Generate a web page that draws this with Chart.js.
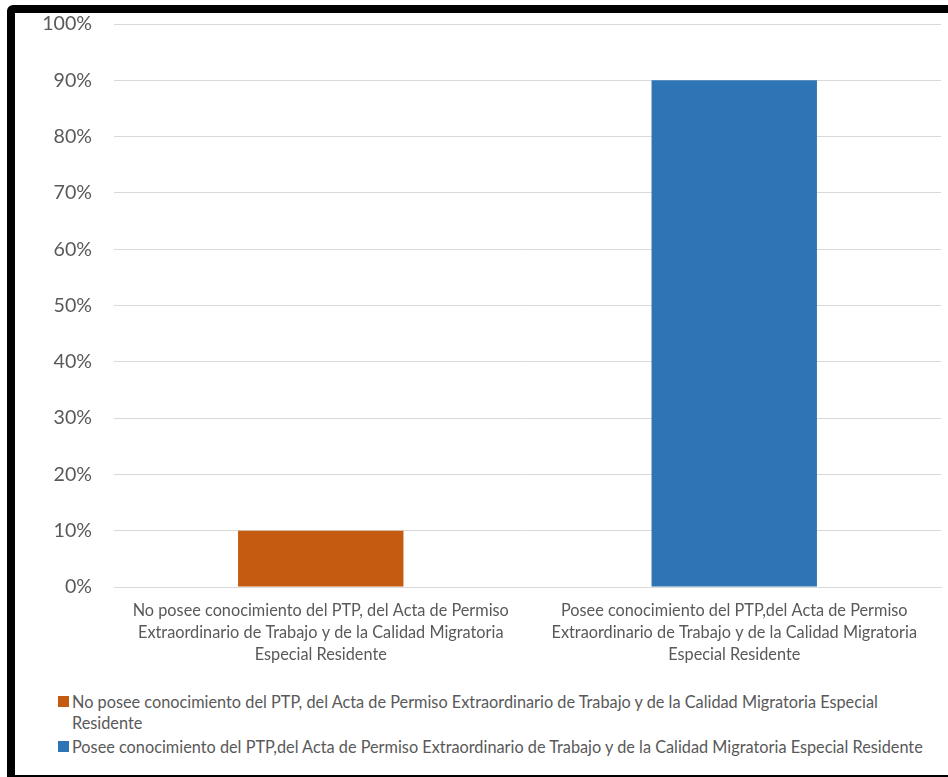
<!DOCTYPE html>
<html>
<head>
<meta charset="utf-8">
<script src="https://cdn.jsdelivr.net/npm/chart.js@4/dist/chart.umd.min.js"></script>
<style>
    html, body { margin: 0; padding: 0; background: #fff; overflow: hidden; }
    #frame {
        position: absolute; left: 7px; top: 5px;
        width: 960px; height: 778px;
        border: 8px solid #000; border-radius: 6px;
        box-sizing: border-box; background: #fff;
    }
    #chartBox { position: absolute; left: 0; top: 0; width: 933px; height: 667px; }
    #legend {
        position: absolute; left: 43px; top: 678px; margin: 0; padding: 0; list-style: none;
        font-family: Lato, 'Open Sans', sans-serif; font-size: 16.3px; color: #595959;
    }
    #legend li { position: relative; padding-left: 14px; line-height: 21px; margin-bottom: 3px; width: 860px; }
    #legend li span.box { position: absolute; left: 0; top: 5px; width: 11px; height: 11px; }
</style>
</head>
<body>
<div id="frame">
    <div id="chartBox"><canvas id="chart"></canvas></div>
    <ul id="legend"></ul>
</div>
<script>
const categories = [
    'No posee conocimiento del PTP, del Acta de Permiso Extraordinario de Trabajo y de la Calidad Migratoria Especial Residente',
    'Posee conocimiento del PTP,del Acta de Permiso Extraordinario de Trabajo y de la Calidad Migratoria Especial Residente'
];
const axisLabels = [
    ['No posee conocimiento del PTP, del Acta de Permiso', 'Extraordinario de Trabajo y de la Calidad Migratoria', 'Especial Residente'],
    ['Posee conocimiento del PTP,del Acta de Permiso', 'Extraordinario de Trabajo y de la Calidad Migratoria', 'Especial Residente']
];
const values = [0.10, 0.90];
const barColors = ['#C55A11', '#2E75B6'];

const textColor = '#595959';
const gridColor = '#d9d9d9';
const fontFamily = "Lato, 'Open Sans', sans-serif";

// legend built in html so the long first label can wrap like in the original
const htmlLegend = {
    id: 'htmlLegend',
    afterUpdate(chart) {
        const ul = document.getElementById('legend');
        ul.innerHTML = '';
        const items = chart.options.plugins.legend.labels.generateLabels(chart);
        items.forEach(item => {
            const li = document.createElement('li');
            const box = document.createElement('span');
            box.className = 'box';
            box.style.background = item.fillStyle;
            li.appendChild(box);
            li.appendChild(document.createTextNode(item.text));
            ul.appendChild(li);
        });
    }
};

new Chart(document.getElementById('chart'), {
    type: 'bar',
    data: {
        labels: axisLabels,
        datasets: [{
            data: values,
            backgroundColor: barColors,
            categoryPercentage: 1,
            barPercentage: 0.4
        }]
    },
    options: {
        responsive: true,
        maintainAspectRatio: false,
        animation: false,
        layout: { padding: { top: 11, right: 7, left: 0, bottom: 0 } },
        plugins: {
            legend: {
                display: false,
                labels: {
                    generateLabels: chart => categories.map((c, i) => ({
                        text: c,
                        fillStyle: chart.data.datasets[0].backgroundColor[i]
                    }))
                }
            },
            tooltip: { enabled: false }
        },
        scales: {
            x: {
                grid: { display: false },
                border: { color: gridColor, width: 1 },
                ticks: {
                    color: textColor,
                    padding: 5,
                    maxRotation: 0,
                    autoSkip: false,
                    font: { family: fontFamily, size: 16.3, lineHeight: 1.35 }
                },
                afterFit: s => { s.height = 93; }
            },
            y: {
                min: 0,
                max: 1,
                border: { display: false },
                grid: { color: gridColor, lineWidth: 1, drawTicks: false },
                ticks: {
                    stepSize: 0.1,
                    color: textColor,
                    padding: 22,
                    font: { family: fontFamily, size: 19.6 },
                    callback: v => Math.round(v * 100) + '%'
                },
                afterFit: s => {
                    s.width = 99;
                    s.paddingTop = 0;
                    s.paddingBottom = 0;
                }
            }
        }
    },
    plugins: [htmlLegend]
});
</script>
</body>
</html>
